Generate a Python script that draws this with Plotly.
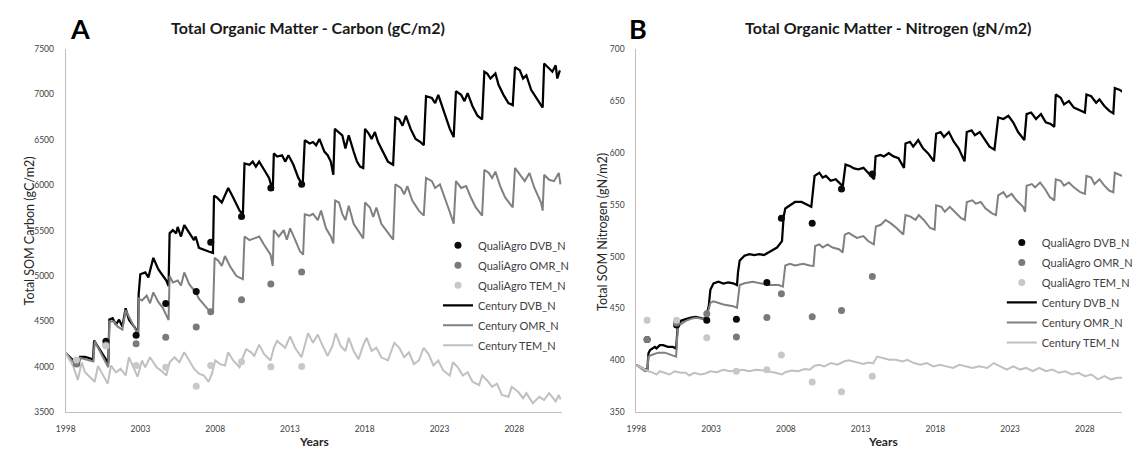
import plotly.graph_objects as go

FONT = "Lato"

# ---------------- Panel A : carbon (gC/m2) ----------------
sample_years = [1998.72, 2000.69, 2002.71, 2004.69, 2006.73, 2007.70, 2009.76, 2011.72, 2013.78]

qa_dvb_c = [4039, 4283, 4348, 4697, 4830, 5372, 5656, 5969, 6010]
qa_omr_c = [4030, 4240, 4255, 4327, 4438, 4607, 4740, 4912, 5045]
qa_tem_c = [4075, 4230, 4014, 3995, 3787, 4015, 4057, 4000, 4003]

century_dvb_c = [
    (1998.00, 4150), (1998.35, 4100), (1998.63, 4050), (1998.85, 4020), (1998.96, 4110), (1999.29, 4110),
    (1999.61, 4095), (1999.83, 4080), (1999.90, 4290), (2000.27, 4195), (2000.59, 4105), (2000.85, 4040),
    (2000.92, 4520), (2001.14, 4535), (2001.36, 4465), (2001.57, 4520), (2001.79, 4445), (2002.01, 4645),
    (2002.23, 4520), (2002.66, 4425), (2002.84, 4360), (2002.88, 4800), (2002.99, 5020), (2003.32, 5040),
    (2003.53, 4985), (2003.86, 5200), (2004.19, 5075), (2004.51, 5000), (2004.73, 4950), (2004.88, 4890),
    (2004.95, 5470), (2005.17, 5505), (2005.39, 5470), (2005.49, 5540), (2005.71, 5435), (2005.93, 5560),
    (2006.26, 5470), (2006.58, 5395), (2006.69, 5435), (2006.91, 5310), (2007.56, 5270), (2007.85, 5255),
    (2007.92, 5885), (2008.11, 5865), (2008.44, 5810), (2008.65, 5885), (2008.87, 5970), (2009.20, 5865),
    (2009.42, 5795), (2009.63, 5720), (2009.85, 5680), (2009.96, 6240), (2010.29, 6225), (2010.51, 6260),
    (2010.72, 6205), (2010.94, 6260), (2011.27, 6170), (2011.60, 6080), (2011.85, 5940), (2011.92, 6350),
    (2012.14, 6315), (2012.47, 6330), (2012.68, 6260), (2012.90, 6330), (2013.23, 6225), (2013.56, 6080),
    (2013.85, 6000), (2013.99, 6495), (2014.32, 6460), (2014.54, 6475), (2014.75, 6440), (2014.97, 6510),
    (2015.30, 6370), (2015.52, 6330), (2015.73, 6260), (2015.90, 6115), (2016.00, 6620), (2016.28, 6585),
    (2016.50, 6550), (2016.71, 6405), (2016.93, 6550), (2017.26, 6370), (2017.48, 6260), (2017.69, 6205),
    (2017.90, 6190), (2018.02, 6620), (2018.28, 6565), (2018.46, 6510), (2018.68, 6585), (2018.89, 6475),
    (2019.22, 6370), (2019.55, 6260), (2019.90, 6225), (2020.05, 6745), (2020.31, 6725), (2020.53, 6655),
    (2020.75, 6765), (2021.07, 6620), (2021.40, 6510), (2021.73, 6475), (2021.95, 6440), (2022.10, 6980),
    (2022.49, 6960), (2022.71, 6905), (2022.92, 6995), (2023.14, 6890), (2023.36, 6765), (2023.69, 6620),
    (2023.95, 6530), (2024.10, 7035), (2024.45, 6995), (2024.67, 6925), (2024.88, 7015), (2025.21, 6870),
    (2025.54, 6765), (2025.85, 6725), (2026.00, 7250), (2026.19, 7230), (2026.41, 7175), (2026.74, 7230),
    (2026.95, 7105), (2027.28, 6995), (2027.61, 6905), (2027.90, 6880), (2028.05, 7300), (2028.37, 7265),
    (2028.59, 7175), (2028.81, 7210), (2029.13, 7050), (2029.57, 6945), (2029.90, 6855), (2030.00, 7340),
    (2030.33, 7285), (2030.55, 7250), (2030.77, 7320), (2030.88, 7175), (2031.05, 7265),
]

century_omr_c = [
    (1998.00, 4150), (1998.35, 4090), (1998.63, 4030), (1998.85, 4010), (1998.96, 4100), (1999.61, 4070),
    (1999.85, 4060), (1999.94, 4280), (2000.59, 4070), (2000.85, 3995), (2000.92, 4500), (2001.25, 4500),
    (2001.46, 4445), (2001.79, 4410), (2002.01, 4625), (2002.66, 4425), (2002.84, 4355), (2002.90, 4750),
    (2003.10, 4730), (2003.42, 4785), (2003.64, 4700), (2003.86, 4820), (2004.19, 4715), (2004.51, 4645),
    (2004.73, 4570), (2004.88, 4515), (2004.95, 5000), (2005.17, 4930), (2005.49, 4950), (2005.71, 4895),
    (2005.93, 5040), (2006.26, 4910), (2006.69, 4820), (2006.91, 4750), (2007.56, 4625), (2007.85, 4590),
    (2007.96, 5200), (2008.22, 5165), (2008.44, 5110), (2008.65, 5220), (2008.98, 5110), (2009.42, 5000),
    (2009.85, 4965), (2009.96, 5435), (2010.29, 5395), (2010.61, 5415), (2010.94, 5435), (2011.27, 5345),
    (2011.70, 5235), (2011.85, 5110), (2011.92, 5505), (2012.25, 5435), (2012.58, 5505), (2012.79, 5400),
    (2013.01, 5525), (2013.34, 5400), (2013.66, 5275), (2013.88, 5235), (2013.99, 5680), (2014.32, 5665),
    (2014.54, 5685), (2014.86, 5615), (2015.08, 5720), (2015.41, 5525), (2015.73, 5435), (2015.90, 5360),
    (2016.02, 5830), (2016.28, 5810), (2016.50, 5685), (2016.71, 5615), (2016.93, 5775), (2017.26, 5575),
    (2017.69, 5470), (2017.90, 5415), (2018.02, 5810), (2018.35, 5755), (2018.57, 5650), (2018.78, 5755),
    (2019.11, 5575), (2019.44, 5505), (2019.90, 5400), (2020.05, 6010), (2020.42, 5970), (2020.64, 5900),
    (2020.85, 5990), (2021.18, 5830), (2021.62, 5720), (2021.95, 5665), (2022.10, 6080), (2022.49, 6045),
    (2022.71, 5970), (2023.03, 6010), (2023.36, 5865), (2023.69, 5705), (2023.95, 5575), (2024.10, 6045),
    (2024.45, 5970), (2024.78, 5990), (2025.10, 5865), (2025.43, 5755), (2025.85, 5665), (2026.00, 6170),
    (2026.30, 6135), (2026.52, 6080), (2026.74, 6150), (2027.06, 5990), (2027.39, 5865), (2027.90, 5755),
    (2028.05, 6190), (2028.37, 6115), (2028.70, 6045), (2029.02, 6135), (2029.35, 5970), (2029.79, 5810),
    (2029.90, 5720), (2030.00, 6115), (2030.33, 6060), (2030.66, 6045), (2030.98, 6135), (2031.09, 6010),
]

century_tem_c = [
    (1998.00, 4150), (1998.52, 4000), (1998.81, 3855), (1999.07, 4050), (1999.29, 3940), (1999.61, 3890),
    (1999.94, 3835), (2000.16, 4010), (2000.59, 3870), (2000.81, 3815), (2001.03, 4015), (2001.36, 3940),
    (2001.68, 3980), (2002.01, 3905), (2002.23, 4105), (2002.66, 3940), (2002.81, 3890), (2003.10, 4070),
    (2003.32, 3995), (2003.64, 4105), (2004.08, 3995), (2004.51, 3940), (2004.73, 3905), (2004.95, 4050),
    (2005.28, 4105), (2005.60, 4050), (2005.93, 4160), (2006.26, 4070), (2006.58, 3980), (2006.91, 3925),
    (2007.24, 3905), (2007.56, 3835), (2007.78, 3925), (2008.00, 4070), (2008.33, 4030), (2008.65, 4015),
    (2008.87, 4160), (2009.20, 4070), (2009.63, 3995), (2009.85, 4105), (2010.07, 4195), (2010.40, 4160),
    (2010.61, 4120), (2010.94, 4245), (2011.27, 4140), (2011.70, 4070), (2011.92, 4210), (2012.14, 4285),
    (2012.47, 4245), (2012.68, 4210), (2013.01, 4335), (2013.34, 4210), (2013.77, 4105), (2014.00, 4230),
    (2014.21, 4370), (2014.54, 4265), (2014.86, 4355), (2015.19, 4230), (2015.52, 4120), (2015.84, 4230),
    (2016.06, 4370), (2016.39, 4230), (2016.71, 4175), (2016.93, 4320), (2017.26, 4175), (2017.59, 4085),
    (2017.91, 4245), (2018.13, 4320), (2018.46, 4175), (2018.78, 4210), (2019.11, 4105), (2019.55, 4070),
    (2019.98, 4265), (2020.31, 4210), (2020.64, 4105), (2020.96, 4160), (2021.29, 4030), (2021.62, 4070),
    (2021.94, 4210), (2022.27, 4140), (2022.60, 4015), (2022.92, 4070), (2023.25, 3960), (2023.69, 3905),
    (2023.90, 4050), (2024.23, 3995), (2024.56, 3905), (2024.88, 3940), (2025.21, 3835), (2025.65, 3800),
    (2025.86, 3905), (2026.19, 3850), (2026.52, 3780), (2026.85, 3815), (2027.17, 3690), (2027.61, 3670),
    (2027.83, 3780), (2028.26, 3725), (2028.59, 3655), (2028.81, 3710), (2029.24, 3600), (2029.68, 3670),
    (2030.00, 3635), (2030.33, 3710), (2030.77, 3620), (2030.98, 3690), (2031.09, 3640),
]

# ---------------- Panel B : nitrogen (gN/m2) ----------------
qa_dvb_n = [420, 434, 438.7, 439.7, 475, 536.9, 532.2, 565.1, 579.5]
qa_omr_n = [420, 436, 445, 422.4, 441.2, 464.1, 441.9, 448.1, 480.8]
qa_tem_n = [438.7, 438.7, 421.8, 389.5, 391, 405.2, 379.1, 369.7, 384.8]

century_dvb_n = [
    (1998.00, 395.5), (1998.59, 391.0), (1998.74, 391.5), (1998.81, 406.8), (1998.92, 410.0), (1999.13, 411.5),
    (1999.24, 413.0), (1999.35, 411.5), (1999.57, 414.6), (1999.79, 414.6), (2000.11, 413.0), (2000.44, 413.0),
    (2000.66, 411.5), (2000.77, 433.4), (2000.98, 438.1), (2001.31, 439.7), (2001.64, 441.2), (2001.97, 441.9),
    (2002.29, 441.0), (2002.62, 439.7), (2002.84, 452.0), (2002.95, 467.9), (2003.16, 474.2), (2003.49, 475.7),
    (2003.82, 474.0), (2004.14, 475.0), (2004.47, 474.2), (2004.73, 472.6), (2004.80, 485.0), (2004.91, 496.1),
    (2005.23, 500.8), (2005.56, 502.4), (2005.89, 501.5), (2006.21, 502.4), (2006.54, 501.5), (2006.87, 504.0),
    (2007.08, 505.6), (2007.41, 508.7), (2007.74, 514.9), (2007.85, 538.5), (2007.96, 546.3), (2008.28, 549.4),
    (2008.61, 552.6), (2009.05, 552.6), (2009.48, 549.4), (2009.70, 547.9), (2009.92, 577.7), (2010.24, 580.8),
    (2010.46, 576.1), (2010.68, 577.7), (2011.00, 573.0), (2011.33, 574.5), (2011.66, 569.8), (2011.81, 568.3),
    (2011.99, 588.6), (2012.31, 587.0), (2012.55, 585.0), (2012.86, 584.0), (2013.19, 585.5), (2013.40, 582.4),
    (2013.62, 579.2), (2013.90, 574.5), (2014.00, 596.5), (2014.33, 598.0), (2014.55, 596.5), (2014.88, 599.6),
    (2015.20, 596.5), (2015.53, 594.9), (2015.90, 585.5), (2016.00, 609.0), (2016.30, 610.6), (2016.52, 605.9),
    (2016.85, 612.2), (2017.17, 604.3), (2017.50, 599.6), (2017.90, 591.8), (2018.05, 618.4), (2018.35, 620.0),
    (2018.57, 615.3), (2018.90, 620.0), (2019.23, 610.6), (2019.55, 604.3), (2019.95, 591.8), (2020.10, 620.0),
    (2020.42, 621.6), (2020.64, 616.9), (2020.97, 620.0), (2021.30, 612.2), (2021.62, 605.9), (2021.95, 603.0),
    (2022.20, 634.1), (2022.55, 632.5), (2022.88, 635.7), (2023.20, 629.4), (2023.53, 620.0), (2023.95, 612.2),
    (2024.10, 637.3), (2024.40, 638.8), (2024.73, 632.5), (2025.06, 637.3), (2025.38, 629.4), (2025.71, 627.8),
    (2025.95, 625.0), (2026.05, 656.1), (2026.38, 653.0), (2026.60, 646.7), (2026.93, 649.8), (2027.26, 643.5),
    (2027.69, 640.4), (2028.00, 638.8), (2028.10, 656.1), (2028.42, 654.5), (2028.75, 648.2), (2028.97, 651.4),
    (2029.30, 645.1), (2029.63, 640.4), (2029.90, 638.0), (2030.00, 662.3), (2030.30, 660.8), (2030.60, 658.0),
]

century_omr_n = [
    (1998.00, 395.5), (1998.59, 389.5), (1998.74, 390.0), (1998.81, 403.6), (1999.02, 405.2), (1999.46, 407.4),
    (1999.90, 407.4), (2000.44, 405.2), (2000.66, 403.6), (2000.77, 431.8), (2000.98, 435.0), (2001.31, 438.0),
    (2001.64, 440.0), (2001.97, 441.0), (2002.29, 440.5), (2002.62, 439.7), (2002.84, 449.1), (2002.95, 455.4),
    (2003.16, 456.9), (2003.49, 455.4), (2003.82, 453.8), (2004.47, 452.2), (2004.73, 450.7), (2004.91, 472.6),
    (2005.23, 474.2), (2005.78, 475.7), (2006.21, 474.2), (2006.87, 472.6), (2007.52, 472.6), (2007.80, 471.0),
    (2007.96, 491.4), (2008.28, 493.0), (2008.61, 491.4), (2009.15, 493.0), (2009.59, 491.4), (2009.85, 491.0),
    (2009.96, 510.2), (2010.24, 511.8), (2010.46, 508.7), (2010.79, 511.8), (2011.12, 508.7), (2011.55, 507.1),
    (2011.80, 504.0), (2011.94, 521.2), (2012.20, 522.8), (2012.75, 518.0), (2013.18, 519.7), (2013.50, 515.0),
    (2013.88, 511.8), (2014.02, 529.0), (2014.35, 530.6), (2014.67, 535.3), (2015.00, 532.2), (2015.40, 527.5),
    (2015.85, 521.2), (2016.00, 540.0), (2016.34, 538.5), (2016.67, 535.3), (2016.89, 540.0), (2017.22, 535.3),
    (2017.65, 527.5), (2017.95, 525.9), (2018.05, 549.4), (2018.40, 547.9), (2018.63, 543.2), (2018.96, 547.9),
    (2019.29, 543.2), (2019.72, 536.9), (2019.97, 535.3), (2020.10, 552.6), (2020.48, 554.2), (2020.70, 551.0),
    (2021.03, 552.6), (2021.36, 546.3), (2021.79, 541.6), (2022.05, 540.0), (2022.20, 558.9), (2022.55, 562.0),
    (2022.77, 557.3), (2023.10, 560.4), (2023.42, 554.2), (2023.86, 547.9), (2024.00, 543.2), (2024.10, 568.3),
    (2024.45, 569.8), (2024.67, 566.7), (2025.00, 571.4), (2025.33, 565.1), (2025.65, 557.3), (2025.95, 554.2),
    (2026.05, 574.5), (2026.38, 573.0), (2026.60, 568.3), (2026.93, 571.4), (2027.26, 566.7), (2027.69, 562.0),
    (2028.00, 560.4), (2028.10, 577.7), (2028.42, 576.1), (2028.64, 569.8), (2028.97, 574.5), (2029.30, 568.3),
    (2029.63, 563.6), (2029.90, 562.0), (2030.00, 580.8), (2030.30, 579.2), (2030.60, 577.0),
]

century_tem_n = [
    (1998.00, 395.5), (1998.59, 391.0), (1998.81, 389.5), (1999.02, 388.6), (1999.35, 386.4), (1999.57, 389.5),
    (1999.90, 388.0), (2000.22, 386.4), (2000.55, 389.5), (2000.98, 388.0), (2001.31, 388.0), (2001.53, 385.4),
    (2001.86, 388.0), (2002.29, 386.4), (2002.62, 387.3), (2002.95, 389.5), (2003.38, 388.6), (2003.82, 391.0),
    (2004.25, 389.5), (2004.69, 390.1), (2005.12, 391.0), (2005.56, 389.5), (2006.00, 391.0), (2006.54, 390.1),
    (2006.87, 389.5), (2007.30, 388.0), (2007.74, 386.4), (2007.96, 388.6), (2008.39, 390.1), (2008.83, 389.5),
    (2009.26, 391.7), (2009.59, 391.0), (2009.92, 394.8), (2010.24, 395.8), (2010.57, 394.2), (2011.01, 397.3),
    (2011.44, 395.8), (2011.88, 398.9), (2012.20, 400.0), (2012.53, 399.0), (2012.86, 397.5), (2013.19, 396.5),
    (2013.51, 398.0), (2013.84, 397.0), (2014.10, 403.6), (2014.49, 402.0), (2014.93, 400.5), (2015.36, 400.5),
    (2015.80, 398.9), (2016.13, 400.5), (2016.56, 397.4), (2017.00, 395.8), (2017.43, 397.4), (2017.87, 394.2),
    (2018.31, 395.8), (2018.74, 394.2), (2019.18, 392.7), (2019.61, 395.8), (2020.05, 394.2), (2020.48, 392.7),
    (2020.92, 394.2), (2021.46, 392.7), (2021.90, 397.4), (2022.34, 394.2), (2022.77, 391.1), (2023.21, 394.2),
    (2023.64, 391.1), (2024.08, 392.7), (2024.51, 389.5), (2024.95, 392.7), (2025.39, 389.5), (2025.82, 391.1),
    (2026.26, 388.0), (2026.69, 389.5), (2027.13, 386.4), (2027.57, 388.0), (2028.00, 384.8), (2028.44, 386.4),
    (2028.87, 381.7), (2029.31, 384.8), (2029.74, 381.7), (2030.18, 383.3), (2030.51, 383.3),
]

tick_years = [1998, 2003, 2008, 2013, 2018, 2023, 2028]
ticks_c = [3500, 4000, 4500, 5000, 5500, 6000, 6500, 7000, 7500]
ticks_n = [350, 400, 450, 500, 550, 600, 650, 700]

line_colors = {"DVB": "#000000", "OMR": "#808080", "TEM": "#c0c0c0"}
line_widths = {"DVB": 2.25, "OMR": 2, "TEM": 2}
dot_colors = {"DVB": "#0a0a0a", "OMR": "#7a7a7a", "TEM": "#c8c8c8"}

W, H = 1138, 450


def unzip(pairs):
    return [p[0] for p in pairs], [p[1] for p in pairs]


fig = go.Figure()

panels = [
    ("x", "y", "legend",
     {"DVB": century_dvb_c, "OMR": century_omr_c, "TEM": century_tem_c},
     {"DVB": qa_dvb_c, "OMR": qa_omr_c, "TEM": qa_tem_c}),
    ("x2", "y2", "legend2",
     {"DVB": century_dvb_n, "OMR": century_omr_n, "TEM": century_tem_n},
     {"DVB": qa_dvb_n, "OMR": qa_omr_n, "TEM": qa_tem_n}),
]

for xa, ya, lg, lines, dots in panels:
    for i, key in enumerate(["DVB", "OMR", "TEM"]):
        xs, ys = unzip(lines[key])
        fig.add_trace(go.Scatter(
            x=xs, y=ys, mode="lines", name=f"Century {key}_N",
            line=dict(color=line_colors[key], width=line_widths[key]),
            xaxis=xa, yaxis=ya, legend=lg, legendrank=4 + i,
            legendgroup=f"{lg}_c{key}", hoverinfo="skip"))
    for i, key in enumerate(["DVB", "OMR", "TEM"]):
        fig.add_trace(go.Scatter(
            x=sample_years, y=dots[key], mode="markers", name=f"QualiAgro {key}_N",
            marker=dict(color=dot_colors[key], size=7, line=dict(width=0)),
            xaxis=xa, yaxis=ya, legend=lg, legendrank=1 + i,
            legendgroup=f"{lg}_q{key}", hoverinfo="skip"))

ydom = [1 - 416.5 / H, 1 - 45 / H]
axis_common = dict(showline=True, linecolor="#bfbfbf", linewidth=1, showgrid=False,
                   zeroline=False, ticks="", ticklabelstandoff=9,
                   tickfont=dict(family=FONT, size=8.5, color="#404040"))

legend_common = dict(xanchor="left", yanchor="top", bgcolor="rgba(0,0,0,0)",
                     font=dict(family=FONT, size=11, color="#404040"),
                     tracegroupgap=1, itemwidth=30, traceorder="grouped")

fig.update_layout(
    width=W, height=H, autosize=False,
    margin=dict(l=0, r=0, t=0, b=0),
    paper_bgcolor="white", plot_bgcolor="white",
    showlegend=True,
    xaxis=dict(domain=[57 / W, 565 / W], range=[1998, 2031.2], anchor="y",
               tickvals=tick_years, ticktext=[str(t) for t in tick_years], **axis_common),
    yaxis=dict(domain=ydom, range=[3500, 7500], anchor="x",
               tickvals=ticks_c, ticktext=[str(t) for t in ticks_c], **axis_common),
    xaxis2=dict(domain=[641 / W, 1.0], range=[1998, 2030.48], anchor="y2",
                tickvals=tick_years, ticktext=[str(t) for t in tick_years], **axis_common),
    yaxis2=dict(domain=ydom, range=[350, 700], anchor="x2",
                tickvals=ticks_n, ticktext=[str(t) for t in ticks_n], **axis_common),
    legend=dict(x=438 / W, y=1 - 231 / H, **legend_common),
    legend2=dict(x=1015 / W, y=1 - 228 / H, **legend_common),
)

ann = []
def text(x, y, s, size, bold=False, angle=0, color="#1a1a1a"):
    ann.append(dict(x=x / W, y=1 - y / H, xref="paper", yref="paper", showarrow=False,
                    text=f"<b>{s}</b>" if bold else s, textangle=angle,
                    xanchor="center", yanchor="middle",
                    font=dict(family=FONT, size=size, color=color)))

text(72, 24, "A", 27, bold=True, color="#000000")
text(643, 24, "B", 27, bold=True, color="#000000")
text(305, 23, "Total Organic Matter - Carbon (gC/m2)", 16, bold=True)
text(899, 23, "Total Organic Matter - Nitrogen (gN/m2)", 16, bold=True)
text(20, 231, "Total SOM Carbon (gC/m2)", 12.5, angle=-90, color="#262626")
text(607, 232, "Total SOM Nitrogen (gN/m2)", 12.5, angle=-90, color="#262626")
text(311, 446, "Years", 12, bold=True, color="#262626")
text(893, 446, "Years", 12, bold=True, color="#262626")
fig.update_layout(annotations=ann)

fig.write_html("out.html",
               config={"displayModeBar": False},
               post_script="document.body.style.margin='0px';document.body.style.padding='0px';"
                           "document.documentElement.style.overflow='hidden';")
